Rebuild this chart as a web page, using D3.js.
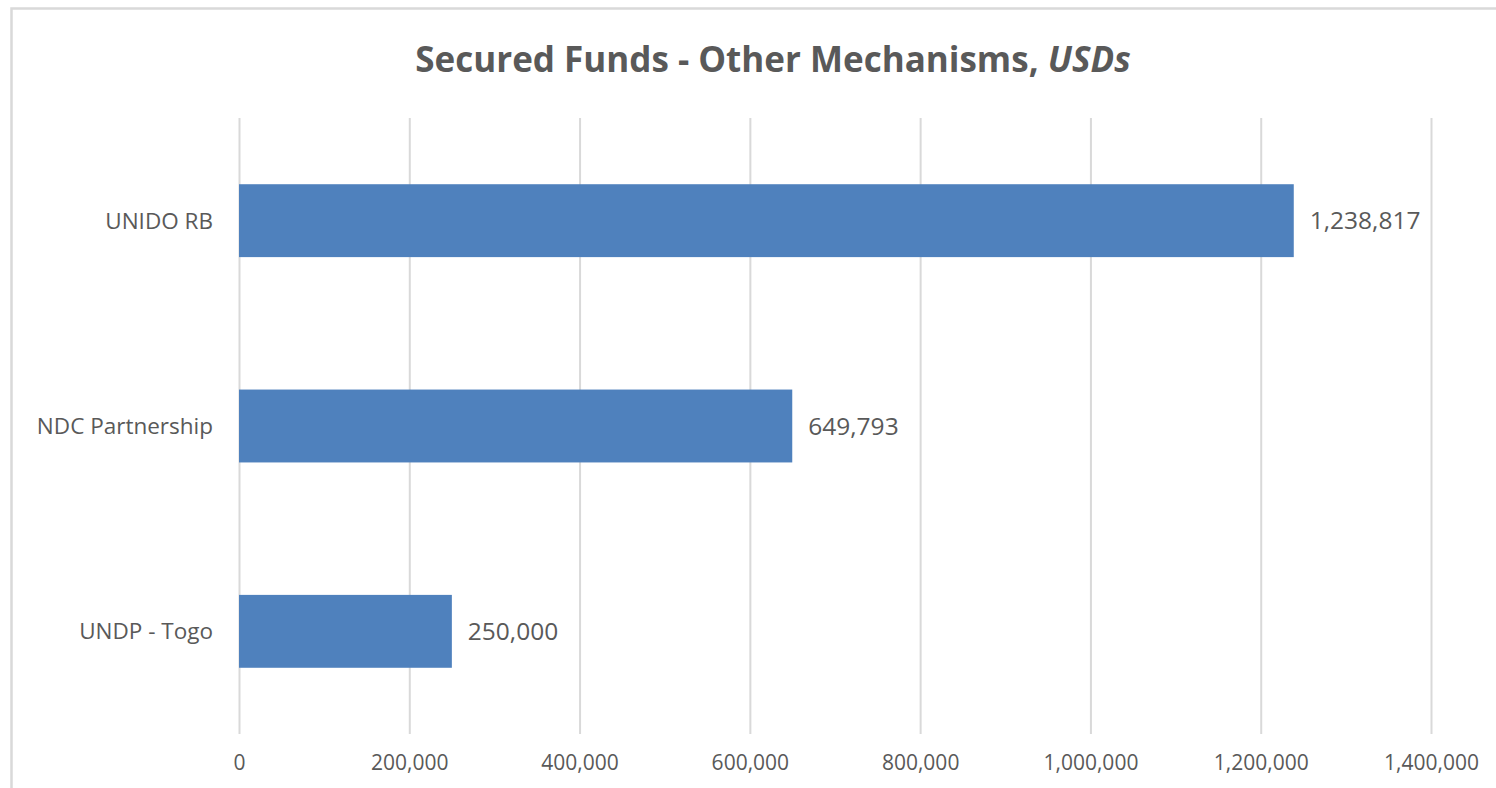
<!DOCTYPE html>
<html>
<head>
<meta charset="utf-8">
<script src="https://cdn.jsdelivr.net/npm/d3@7"></script>
<style>
  body { margin: 0; background: #fff; }
  text { font-family: 'Open Sans', sans-serif; fill: #595959; }
</style>
</head>
<body>
<svg id="chart"></svg>
<script>
var categories = ['UNIDO RB', 'NDC Partnership', 'UNDP - Togo'];
var values = [1238817, 649793, 250000];
var xTicks = [0, 200000, 400000, 600000, 800000, 1000000, 1200000, 1400000];

var W = 1496, H = 788;
var plotL = 239, plotR = 1431, plotT = 118, plotB = 734;

var root = d3.select('#chart')
    .attr('width', W)
    .attr('height', H);

// outer chart border (runs off right and bottom edges)
root.append('rect')
    .attr('x', 11.5)
    .attr('y', 8.5)
    .attr('width', W + 10)
    .attr('height', H + 10)
    .attr('fill', 'none')
    .attr('stroke', '#d9d9d9')
    .attr('stroke-width', 2.5);

root.append('text')
    .attr('x', 773)
    .attr('y', 72)
    .attr('text-anchor', 'middle')
    .style('font-size', '35px')
    .style('font-weight', 'bold')
    .text('Secured Funds - Other Mechanisms, ')
    .append('tspan')
    .style('font-style', 'italic')
    .text('USDs');

var x = d3.scaleLinear()
    .domain([0, 1400000])
    .range([plotL, plotR]);

var y = d3.scaleBand()
    .domain(categories)
    .range([plotT, plotB])
    .paddingInner(0.645)
    .paddingOuter(0.3225);

var xAxis = root.append('g')
    .attr('transform', 'translate(0,' + plotB + ')')
    .call(d3.axisBottom(x)
        .tickValues(xTicks)
        .tickSize(-(plotB - plotT))
        .tickFormat(d3.format(',')));

xAxis.select('.domain').remove();
xAxis.selectAll('.tick line')
    .attr('stroke', '#d9d9d9')
    .attr('stroke-width', 2);
xAxis.selectAll('.tick text')
    .attr('y', 29)
    .attr('dy', '0.35em')
    .attr('fill', '#595959')
    .style('font-size', '21px')
    .style('font-family', "'Open Sans', sans-serif");

var rows = categories.map(function(c, i) {
  return { name: c, value: values[i] };
});

root.append('g')
    .attr('class', 'bars')
    .selectAll('rect')
    .data(rows)
    .enter()
    .append('rect')
    .attr('x', x(0))
    .attr('y', function(d) { return y(d.name); })
    .attr('width', function(d) { return x(d.value) - x(0); })
    .attr('height', y.bandwidth())
    .attr('fill', '#4f81bd');

root.append('g')
    .attr('class', 'values')
    .selectAll('text')
    .data(rows)
    .enter()
    .append('text')
    .attr('x', function(d) { return x(d.value) + 16; })
    .attr('y', function(d) { return y(d.name) + y.bandwidth() / 2; })
    .attr('dy', '0.35em')
    .style('font-size', '24.5px')
    .text(function(d) { return d3.format(',')(d.value); });

root.append('g')
    .attr('class', 'cats')
    .selectAll('text')
    .data(rows)
    .enter()
    .append('text')
    .attr('x', plotL - 26)
    .attr('y', function(d) { return y(d.name) + y.bandwidth() / 2; })
    .attr('dy', '0.35em')
    .attr('text-anchor', 'end')
    .style('font-size', '22.5px')
    .text(function(d) { return d.name; });
</script>
</body>
</html>
